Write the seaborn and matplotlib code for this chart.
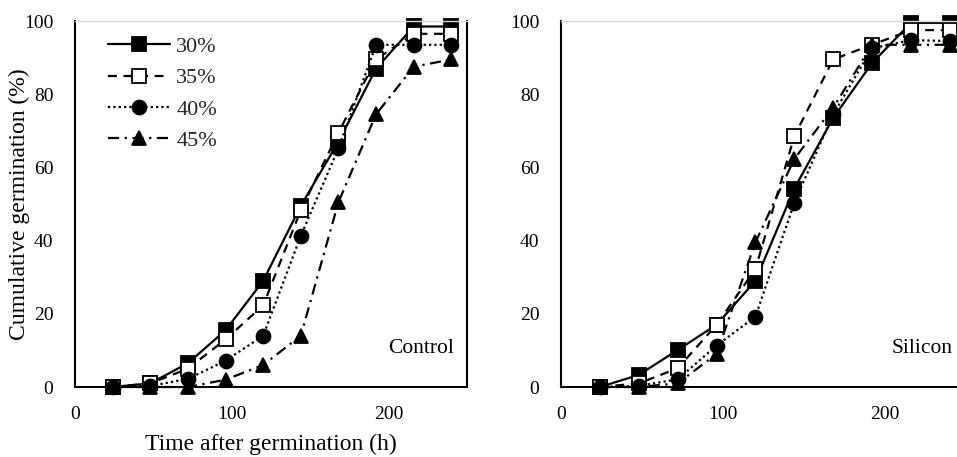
import matplotlib
matplotlib.use("Agg")
import matplotlib.pyplot as plt
import seaborn as sns
import pandas as pd

# ---- data ----
hours = [24, 48, 72, 96, 120, 144, 168, 192, 216, 240]
series_labels = ["30%", "35%", "40%", "45%"]

control_30 = [0, 1, 6.5, 15.5, 29, 49.5, 67, 87, 98.5, 98.5]
control_35 = [0, 1, 5, 13, 22.3, 48.3, 69.5, 89.5, 96.5, 96.5]
control_40 = [0, 0.3, 2.2, 7.2, 14, 41.3, 65.2, 93.5, 93.5, 93.5]
control_45 = [0, 0, 0, 2, 6, 14, 50.5, 74.5, 87.5, 89.5]

silicon_30 = [0, 3.3, 10.1, 17, 29, 54.2, 73.5, 88.5, 99.5, 99.5]
silicon_35 = [0, 1, 5.1, 17, 32.2, 68.5, 89.5, 93.5, 97.5, 97.5]
silicon_40 = [0, 0.3, 2.1, 11.3, 19.2, 50.3, 74.5, 92.5, 94.8, 94.5]
silicon_45 = [0, 0, 1, 9, 39.5, 62.3, 76.3, 93.5, 93.5, 93.5]

panel_titles = ["Control", "Silicon"]
x_ticks = [0, 100, 200]
y_ticks = [0, 20, 40, 60, 80, 100]
xlabel = "Time after germination (h)"
ylabel = "Cumulative germination (%)"

# ---- styling ----
sns.set_theme(style="white")
plt.rcParams["font.family"] = ["Liberation Serif", "DejaVu Serif"]
plt.rcParams["font.size"] = 14

styles = [
    dict(marker="s", linestyle="-", markerfacecolor="black"),
    dict(marker="s", linestyle=(0, (4, 3)), markerfacecolor="white"),
    dict(marker="o", linestyle=(0, (1, 1.4)), markerfacecolor="black"),
    dict(marker="^", linestyle=(0, (5, 2.5, 1, 2.5)), markerfacecolor="black"),
]

fig = plt.figure(figsize=(9.57, 4.57), dpi=100)
W, H = 957, 457
ax1 = fig.add_axes([75 / W, (H - 387) / H, (467 - 75) / W, (387 - 21) / H])
ax2 = fig.add_axes([561 / W, (H - 387) / H, 405 / W, (387 - 21) / H])

panels = [
    (ax1, [control_30, control_35, control_40, control_45], panel_titles[0]),
    (ax2, [silicon_30, silicon_35, silicon_40, silicon_45], panel_titles[1]),
]

for ax, data, title in panels:
    for vals, lab, st in zip(data, series_labels, styles):
        df = pd.DataFrame({"h": hours, "g": vals})
        sns.lineplot(data=df, x="h", y="g", ax=ax, color="black", linewidth=1.6,
                     marker=st["marker"], linestyle=st["linestyle"],
                     markerfacecolor=st["markerfacecolor"], markeredgecolor="black",
                     markeredgewidth=1.3, markersize=10,
                     clip_on=False, label=lab, legend=False)
    ax.set_xlim(0, 250)
    ax.set_ylim(0, 100)
    ax.set_xticks(x_ticks)
    ax.set_yticks(y_ticks)
    ax.tick_params(axis="both", length=0, labelsize=14, colors="black")
    ax.tick_params(axis="y", pad=15.5)
    ax.tick_params(axis="x", pad=14)
    ax.set_xlabel("")
    ax.set_ylabel("")
    for s in ["left", "bottom", "right"]:
        ax.spines[s].set_color("black")
        ax.spines[s].set_linewidth(1.5)
    ax.spines["top"].set_color("#d9d9d9")
    ax.spines["top"].set_linewidth(1.0)
    ax.grid(False)
    ax.text(0.968, 0.105, title, transform=ax.transAxes, ha="right", va="center",
            fontsize=15.5, color="black")

ax1.set_xlabel(xlabel, fontsize=17, color="black")
ax1.xaxis.set_label_coords(0.5, -0.157)
ax1.xaxis.label.set_va("center")
ax1.set_ylabel(ylabel, fontsize=17, color="black")
ax1.yaxis.set_label_coords(-0.142, 0.5)
ax1.yaxis.label.set_va("center")

handles = ax1.get_lines()[:4]
leg = ax1.legend(handles=handles, labels=series_labels, loc="upper left",
                 bbox_to_anchor=(0.083, 0.958), frameon=False, fontsize=16,
                 handlelength=2.8, handletextpad=0.3, labelspacing=0.49,
                 borderaxespad=0, borderpad=0)

fig.savefig("out.png", dpi=100, facecolor="white")
